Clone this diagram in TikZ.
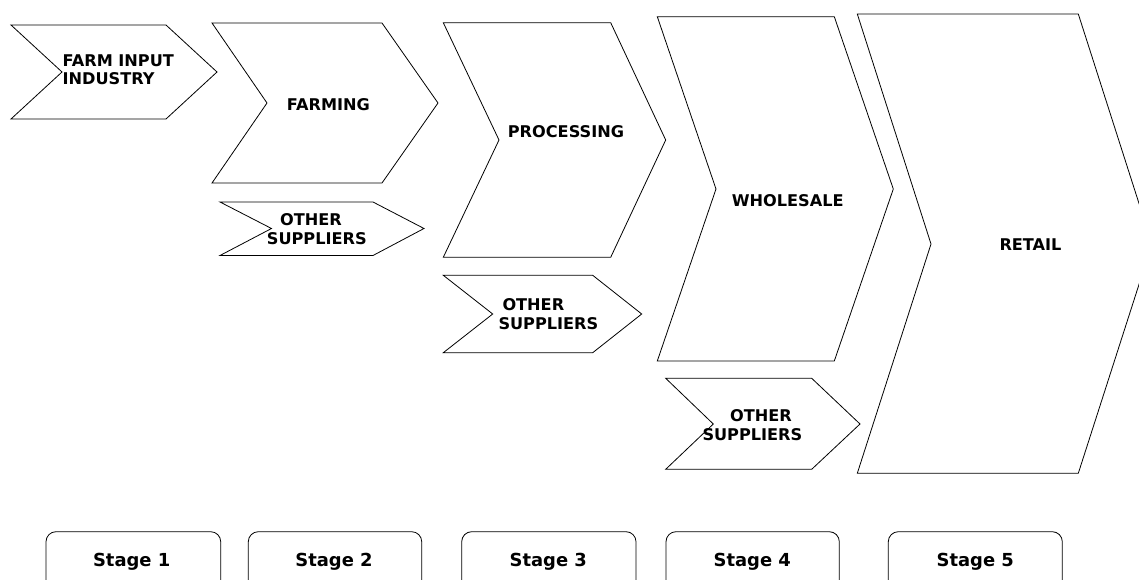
\documentclass[tikz,border=0pt]{standalone}
\usepackage{fontspec}
\setmainfont{DejaVu Sans}
\begin{document}
\begin{tikzpicture}[x=1bp,y=-1bp,
  chev/.style={draw=black,line width=0.8bp,fill=white,line join=miter},
  stagebox/.style={draw=black,line width=0.8bp,rounded corners=10bp},
  lbl/.style={inner sep=0pt,anchor=base west,font=\bfseries\fontsize{16.2}{18}\selectfont},
  stagelbl/.style={inner sep=0pt,anchor=base,font=\bfseries\fontsize{18}{20}\selectfont}]
\clip (0,0) rectangle (1139,580);
\fill[white] (0,0) rectangle (1139,580);
% chevrons
\draw[chev] (11,25) -- (166,25) -- (217,72) -- (166,119) -- (11,119) -- (62,72) -- cycle;
\draw[chev] (212,23) -- (382,23) -- (438,103) -- (382,183) -- (212,183) -- (267,103) -- cycle;
\draw[chev] (220,202) -- (373,202) -- (424,228.5) -- (373,255.5) -- (220,255.5) -- (271.5,228.5) -- cycle;
\draw[chev] (443.3,22.7) -- (610.7,22.7) -- (665.7,140) -- (610.7,257.3) -- (443.3,257.3) -- (499,140) -- cycle;
\draw[chev] (443.3,275.3) -- (592.7,275.3) -- (641.7,314) -- (592.7,352.7) -- (443.3,352.7) -- (492.7,314) -- cycle;
\draw[chev] (657.3,16.7) -- (834.3,16.7) -- (893.3,189) -- (834.3,361) -- (657.3,361) -- (716,189) -- cycle;
\draw[chev] (665.7,378.3) -- (811.7,378.3) -- (860,424) -- (811.7,469.3) -- (665.7,469.3) -- (713.3,424) -- cycle;
\draw[chev] (857.3,14) -- (1078.3,14) -- (1152,244) -- (1078.3,473.3) -- (857.3,473.3) -- (931,244) -- cycle;
% chevron labels
\node[lbl] (fi1) at (62.5,66.7) {FARM INPUT};
\node[lbl] (fi2) at (62.5,85) {INDUSTRY};
\node[lbl] (farm) at (286.7,110.7) {FARMING};
\node[lbl] (os1a) at (280,225.7) {OTHER};
\node[lbl] (os1b) at (266.7,245) {SUPPLIERS};
\node[lbl] (proc) at (507.7,137.3) {PROCESSING};
\node[lbl] (os2a) at (502.3,311) {OTHER};
\node[lbl] (os2b) at (498.3,330) {SUPPLIERS};
\node[lbl] (whole) at (731.7,206.7) {WHOLESALE};
\node[lbl] (os3a) at (730,421) {OTHER};
\node[lbl] (os3b) at (702.3,440) {SUPPLIERS};
\node[lbl] (retail) at (999.3,250.7) {RETAIL};
% stage boxes
\draw[stagebox] (46,531.7) rectangle (220.7,600);
\draw[stagebox] (248.3,531.7) rectangle (421.7,600);
\draw[stagebox] (461.7,531.7) rectangle (636,600);
\draw[stagebox] (666,531.7) rectangle (839.3,600);
\draw[stagebox] (888.3,531.7) rectangle (1062.3,600);
\node[stagelbl] (s1) at (131.7,566.7) {Stage 1};
\node[stagelbl] (s2) at (334,566.7) {Stage 2};
\node[stagelbl] (s3) at (548.3,566.7) {Stage 3};
\node[stagelbl] (s4) at (752.3,566.7) {Stage 4};
\node[stagelbl] (s5) at (975.3,566.7) {Stage 5};
\end{tikzpicture}
\end{document}
